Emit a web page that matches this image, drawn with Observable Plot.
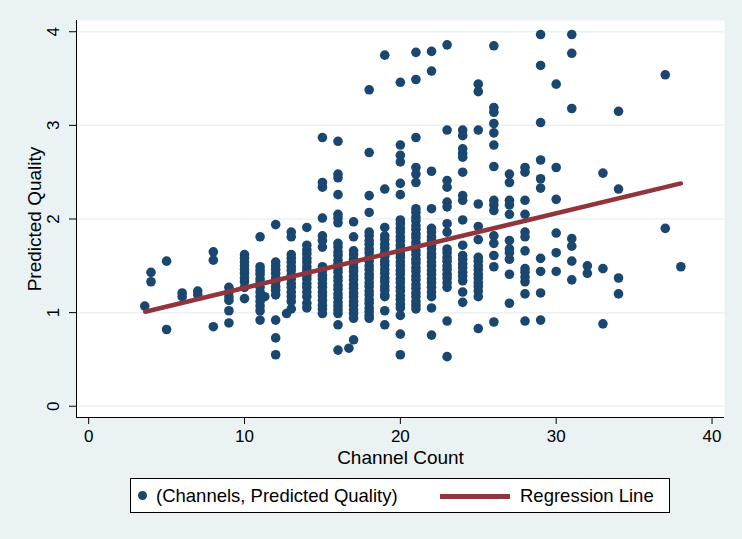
<!DOCTYPE html>
<html>
<head>
<meta charset="utf-8">
<script src="https://cdn.jsdelivr.net/npm/d3@7"></script>
<script src="https://cdn.jsdelivr.net/npm/@observablehq/plot@0.6"></script>
<style>
  html, body { margin: 0; padding: 0; background: #eaf2f3; }
  #wrap { position: relative; width: 742px; height: 539px; background: #eaf2f3; overflow: hidden;
          font-family: "Liberation Sans", Arial, sans-serif; color: #000; }
  #chart svg { display: block; }
  #legend { position: absolute; left: 130px; top: 478px; width: 538px; height: 33px;
            background: #fff; border: 1px solid #000; }
  #legend .dot { position: absolute; left: 7px; top: 12px; width: 9px; height: 9px; border-radius: 50%; background: #1a476f; }
  #legend .t1 { position: absolute; left: 25px; top: 0; line-height: 33px; font-size: 18.5px; white-space: nowrap; }
  #legend .sw { position: absolute; left: 309px; top: 14.5px; width: 70px; height: 5px; background: #90353b; }
  #legend .t2 { position: absolute; left: 389px; top: 0; line-height: 33px; font-size: 18.5px; white-space: nowrap; }
</style>
</head>
<body>
<div id="wrap">
  <div id="chart"></div>
  <div id="legend">
    <div class="dot"></div><div class="t1">(Channels, Predicted Quality)</div>
    <div class="sw"></div><div class="t2">Regression Line</div>
  </div>
</div>
<script>
// ---- data ----
const channelCounts = [3.6, 4, 5, 6, 7, 8, 9, 10, 11, 11.3, 12, 12.7, 13, 14, 15, 16, 16.7, 17, 18, 19, 20, 21, 22, 23, 24, 25, 26, 27, 28, 29, 30, 31, 32, 33, 34, 37, 38];
const qualityByChannel = [
  [1.07],
  [1.43, 1.33],
  [1.55, 0.82],
  [1.21, 1.17],
  [1.23, 1.19],
  [1.65, 1.56, 0.85],
  [1.27, 1.22, 1.17, 1.13, 1.02, 0.89],
  [1.62, 1.58, 1.54, 1.50, 1.46, 1.42, 1.37, 1.33, 1.27, 1.15],
  [1.81, 1.49, 1.45, 1.41, 1.36, 1.32, 1.27, 1.22, 1.17, 1.12, 1.07, 1.02, 0.92],
  [1.17],
  [1.94, 1.54, 1.50, 1.46, 1.42, 1.37, 1.33, 1.28, 1.24, 1.19, 0.92, 0.73, 0.55],
  [0.99],
  [1.86, 1.81, 1.62, 1.58, 1.54, 1.49, 1.45, 1.40, 1.36, 1.31, 1.27, 1.22, 1.17, 1.12, 1.04],
  [1.91, 1.72, 1.67, 1.63, 1.58, 1.54, 1.49, 1.45, 1.40, 1.36, 1.31, 1.27, 1.22, 1.17, 1.10, 1.05],
  [2.87, 2.39, 2.34, 2.01, 1.82, 1.77, 1.70, 1.49, 1.45, 1.40, 1.36, 1.31, 1.27, 1.22, 1.18, 1.13, 1.08, 1.04, 0.99],
  [2.83, 2.48, 2.44, 2.26, 2.05, 2.01, 1.96, 1.74, 1.70, 1.65, 1.61, 1.56, 1.52, 1.47, 1.43, 1.38, 1.34, 1.29, 1.25, 1.20, 1.16, 1.11, 1.07, 1.03, 0.99, 0.87, 0.60],
  [0.62],
  [1.97, 1.81, 1.66, 1.62, 1.57, 1.53, 1.48, 1.44, 1.39, 1.35, 1.30, 1.26, 1.21, 1.17, 1.12, 1.08, 1.03, 0.99, 0.94, 0.71],
  [3.38, 2.71, 2.25, 2.07, 1.86, 1.82, 1.77, 1.73, 1.68, 1.64, 1.59, 1.55, 1.50, 1.46, 1.41, 1.37, 1.32, 1.28, 1.23, 1.19, 1.14, 1.10, 1.05, 1.01, 0.97, 0.94],
  [3.75, 2.32, 1.91, 1.82, 1.78, 1.73, 1.69, 1.64, 1.60, 1.55, 1.51, 1.46, 1.42, 1.37, 1.33, 1.28, 1.24, 1.19, 1.17, 1.02, 0.87],
  [3.46, 2.79, 2.68, 2.61, 2.38, 2.26, 1.99, 1.95, 1.90, 1.86, 1.81, 1.77, 1.72, 1.68, 1.63, 1.59, 1.54, 1.50, 1.45, 1.41, 1.36, 1.32, 1.27, 1.23, 1.18, 1.14, 1.09, 1.05, 0.97, 0.77, 0.55],
  [3.78, 3.49, 2.87, 2.55, 2.48, 2.39, 2.11, 2.07, 2.02, 1.98, 1.93, 1.89, 1.84, 1.80, 1.75, 1.71, 1.66, 1.62, 1.57, 1.53, 1.48, 1.44, 1.39, 1.35, 1.30, 1.26, 1.21, 1.17, 1.12, 1.08, 1.04],
  [3.79, 3.58, 2.51, 2.11, 1.90, 1.86, 1.81, 1.77, 1.72, 1.68, 1.63, 1.59, 1.54, 1.50, 1.45, 1.41, 1.36, 1.32, 1.27, 1.22, 1.17, 1.05, 0.76],
  [3.86, 2.95, 2.41, 2.34, 2.18, 2.13, 1.95, 1.86, 1.68, 1.64, 1.59, 1.55, 1.50, 1.46, 1.41, 1.37, 1.32, 1.27, 0.91, 0.53],
  [2.95, 2.89, 2.75, 2.70, 2.66, 2.50, 2.25, 2.20, 1.99, 1.72, 1.61, 1.57, 1.52, 1.48, 1.43, 1.39, 1.34, 1.22, 1.11],
  [3.44, 3.36, 2.95, 2.16, 1.92, 1.78, 1.59, 1.55, 1.50, 1.46, 1.41, 1.37, 1.32, 1.28, 1.23, 1.17, 0.83],
  [3.85, 3.19, 3.14, 3.02, 2.92, 2.79, 2.56, 2.20, 2.15, 2.09, 1.82, 1.74, 1.61, 1.49, 0.90],
  [2.48, 2.39, 2.20, 2.15, 2.05, 1.77, 1.68, 1.64, 1.57, 1.41, 1.10],
  [2.55, 2.50, 2.20, 2.05, 1.86, 1.81, 1.66, 1.47, 1.43, 1.38, 1.33, 1.20, 0.91],
  [3.97, 3.64, 3.03, 2.63, 2.43, 2.33, 1.58, 1.44, 1.21, 0.92],
  [3.44, 2.55, 2.21, 1.85, 1.64, 1.44],
  [3.97, 3.77, 3.18, 1.79, 1.71, 1.55, 1.35],
  [1.50, 1.42],
  [2.49, 1.47, 0.88],
  [3.15, 2.32, 1.37, 1.20],
  [3.54, 1.90],
  [1.49]
];
const regressionX = [3.63, 38.0];
const regressionY = [1.01, 2.38];
const xTicks = [0, 10, 20, 30, 40];
const yTicks = [0, 1, 2, 3, 4];
const xTitle = "Channel Count";
const yTitle = "Predicted Quality";
const xDomain = [-0.78, 40.8];
const yDomain = [-0.12, 4.12];

// ---- build tables ----
const points = [];
channelCounts.forEach((c, i) => qualityByChannel[i].forEach(q => points.push({channels: c, quality: q})));
const regression = regressionX.map((x, i) => ({channels: x, quality: regressionY[i]}));

const navy = "#1a476f", maroon = "#90353b", grid = "#eaf2f3";
const font = "Liberation Sans, Arial, sans-serif";

const chart = Plot.plot({
  width: 742, height: 470,
  marginLeft: 76, marginRight: 18, marginTop: 20, marginBottom: 53,
  style: {background: "transparent", fontFamily: font, fontSize: "17px", color: "#000", overflow: "visible"},
  x: {domain: xDomain, ticks: xTicks, label: null},
  y: {domain: yDomain, ticks: yTicks, label: null},
  marks: [
    Plot.frame({fill: "white", stroke: null}),
    Plot.gridY(yTicks, {stroke: grid, strokeOpacity: 1, strokeWidth: 1.5}),
    Plot.dot(points, {x: "channels", y: "quality", r: 4.8, fill: navy, stroke: null}),
    Plot.line(regression, {x: "channels", y: "quality", stroke: maroon, strokeWidth: 4.5, strokeLinecap: "round"}),
    Plot.ruleX([xDomain[0]], {stroke: "#000", strokeWidth: 1}),
    Plot.ruleY([yDomain[0]], {stroke: "#000", strokeWidth: 1}),
    Plot.axisX(xTicks, {tickSize: 7, tickPadding: 5, fontSize: 17, label: null, stroke: "#000"}),
    Plot.axisY(yTicks, {tickSize: 7, text: null, label: null, stroke: "#000"}),
    Plot.text(yTicks, {y: d => d, text: d => String(d), frameAnchor: "left", dx: -23, rotate: -90,
                       textAnchor: "middle", lineAnchor: "middle", fontSize: 17, fill: "#000"}),
    Plot.text([yTitle], {text: d => d, frameAnchor: "left", dx: -42, rotate: -90,
                         textAnchor: "middle", lineAnchor: "middle", fontSize: 19, fill: "#000"}),
    Plot.text([xTitle], {text: d => d, frameAnchor: "bottom", dy: 40,
                         textAnchor: "middle", lineAnchor: "middle", fontSize: 19, fill: "#000"})
  ]
});
document.getElementById("chart").appendChild(chart);
</script>
</body>
</html>
